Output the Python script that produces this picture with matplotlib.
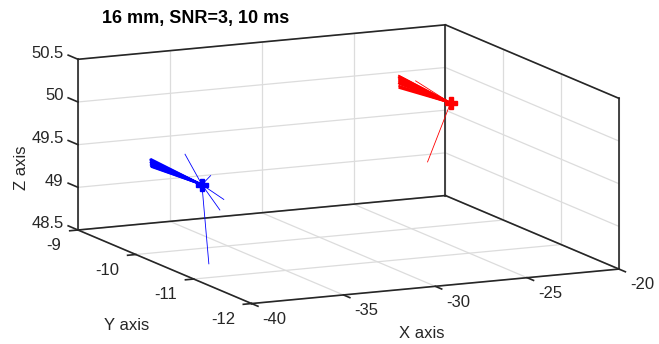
import matplotlib
matplotlib.use('Agg')
import matplotlib.pyplot as plt
import numpy as np

plt.rcParams['font.family'] = ['Liberation Sans', 'DejaVu Sans']

W, H, DPI = 659, 344, 100

x_lim = (-40, -20)
y_lim = (-12, -9)
z_lim = (48.5, 50.5)
x_ticks = [-40, -35, -30, -25, -20]
y_ticks = [-12, -11, -10, -9]
z_ticks = [48.5, 49, 49.5, 50, 50.5]
title = '16 mm, SNR=3, 10 ms'

# fitted dipole locations (mm)
blue_loc = (-34.2, -9.3, 49.0)
red_loc = (-23.5, -10.2, 50.0)

# orientation estimates per trial, as segment offsets from the location
blue_dx = [-2.80, -2.85, -2.82, -2.78, -2.84, -2.80, -2.76, -2.83, -2.79, -2.81, -2.77,
           -2.82, -2.80, -0.93, 0.49, 1.21, 0.99, 0.38]
blue_dy = [0.0] * 18
blue_dz = [0.36, 0.355, 0.345, 0.335, 0.325, 0.315, 0.305, 0.295, 0.285, 0.275, 0.265,
           0.31, 0.33, 0.38, 0.10, -0.20, -0.32, -0.94]

red_dx = [-2.85, -2.80, -2.86, -2.82, -2.84, -2.79, -2.85, -2.81, -2.83, -2.86, -2.80,
          -2.84, -2.82, -2.83, -1.92, -1.26]
red_dy = [0.0] * 16
red_dz = [0.38, 0.37, 0.36, 0.35, 0.34, 0.33, 0.32, 0.31, 0.30, 0.29, 0.28,
          0.26, 0.25, 0.235, 0.30, -0.67]

fig = plt.figure(figsize=(W / DPI, H / DPI), dpi=DPI)
ax = fig.add_axes([0.0, 0.0, 1.0, 1.0], projection='3d', proj_type='ortho',
                  computed_zorder=False)
ax.view_init(elev=11.5, azim=-115.2)
ax.set_box_aspect((1, 1.004, 0.429))
ax.set_xlim(*x_lim)
ax.set_ylim(*y_lim)
ax.set_zlim(*z_lim)
ax.set_axis_off()

x0, x1 = x_lim
y0, y1 = y_lim
z0, z1 = z_lim
grid = dict(color='#dcdcdc', lw=0.9, clip_on=False)
edge = dict(color='#262626', lw=1.2, clip_on=False)
tick_color = '#262626'

# grid on the back wall (y1), right wall (x1) and floor (z0)
for t in x_ticks:
    ax.plot([t, t], [y1, y1], [z0, z1], **grid)
    ax.plot([t, t], [y0, y1], [z0, z0], **grid)
for t in y_ticks:
    ax.plot([x1, x1], [t, t], [z0, z1], **grid)
    ax.plot([x0, x1], [t, t], [z0, z0], **grid)
for t in z_ticks:
    ax.plot([x0, x1], [y1, y1], [t, t], **grid)
    ax.plot([x1, x1], [y0, y1], [t, t], **grid)

# box outline: back edges plus the front axis lines
box_edges = [
    ((x0, x1), (y0, y0), (z0, z0)),
    ((x0, x1), (y1, y1), (z0, z0)),
    ((x0, x0), (y0, y1), (z0, z0)),
    ((x1, x1), (y0, y1), (z0, z0)),
    ((x0, x0), (y1, y1), (z0, z1)),
    ((x1, x1), (y0, y0), (z0, z1)),
    ((x1, x1), (y1, y1), (z0, z1)),
    ((x0, x1), (y1, y1), (z1, z1)),
    ((x1, x1), (y0, y1), (z1, z1)),
]
for xs, ys, zs in box_edges:
    ax.plot(xs, ys, zs, **edge)

# tick marks
for t in x_ticks:
    ax.plot([t, t], [y0, y0 - 0.11], [z0, z0], **edge)
for t in y_ticks:
    ax.plot([x0, x0 - 0.45], [t, t], [z0, z0], **edge)
for t in z_ticks:
    ax.plot([x0, x0], [y1, y1 + 0.17], [t, t], **edge)

for loc, dxs, dys, dzs, col in [(blue_loc, blue_dx, blue_dy, blue_dz, 'blue'),
                                (red_loc, red_dx, red_dy, red_dz, 'red')]:
    px, py, pz = loc
    for dx, dy, dz in zip(dxs, dys, dzs):
        thick = abs(dx) > 2.5
        ax.plot([px, px + dx], [py, py + dy], [pz, pz + dz], color=col,
                lw=1.4 if thick else 0.6, solid_capstyle='butt', clip_on=False)
    ax.plot([px], [py], [pz], marker='P', ms=8, color=col, clip_on=False)


def to_px(x, y, z):
    M = ax.get_proj()
    v = M @ np.array([x, y, z, 1.0])
    return ax.transData.transform((v[0] / v[3], v[1] / v[3]))


# scale and shift the (square) 3D axes so the box sits where we want it
fig.canvas.draw()
left = to_px(x0, y1, z0)
right = to_px(x1, y0, z0)
scale = (619 - 78) / (right[0] - left[0])
bb = ax.get_position()
cx, cy = (bb.x0 + bb.x1) / 2 * W, (bb.y0 + bb.y1) / 2 * H
side = bb.width * W * scale
ncx = 78 - (left[0] - cx) * scale
ncy = (H - 230) - (left[1] - cy) * scale
ax.set_position([(ncx - side / 2) / W, (ncy - side / 2) / H, side / W, side / H])
fig.canvas.draw()

# tick labels, placed in pixels at projected positions next to each tick
lab = dict(fontsize=12, color=tick_color, transform=None)
for t in x_ticks:
    u, v = to_px(t, y0 - 0.4, z0 - 0.07)
    fig.text(u, v, f'{t:g}', ha='center', va='center', **lab)
for t in y_ticks:
    u, v = to_px(x0 - 0.9, t, z0 - 0.08)
    fig.text(u, v, f'{t:g}', ha='right', va='top', **lab)
for t in z_ticks:
    u, v = to_px(x0, y1 + 0.25, t)
    fig.text(u, v, f'{t:g}', ha='right', va='center', **lab)

fig.text(422 / W, 1 - 334 / H, 'X axis', ha='center', va='center', fontsize=12,
         color=tick_color)
fig.text(127 / W, 1 - 326 / H, 'Y axis', ha='center', va='center', fontsize=12,
         color=tick_color)
fig.text(21 / W, 1 - 168 / H, 'Z axis', ha='center', va='center', fontsize=12,
         rotation=90, color=tick_color)
fig.text(196 / W, 1 - 19 / H, title, ha='center', va='center', fontsize=13,
         fontweight='bold', color='black')

fig.savefig('out.png', dpi=DPI, facecolor='white')
